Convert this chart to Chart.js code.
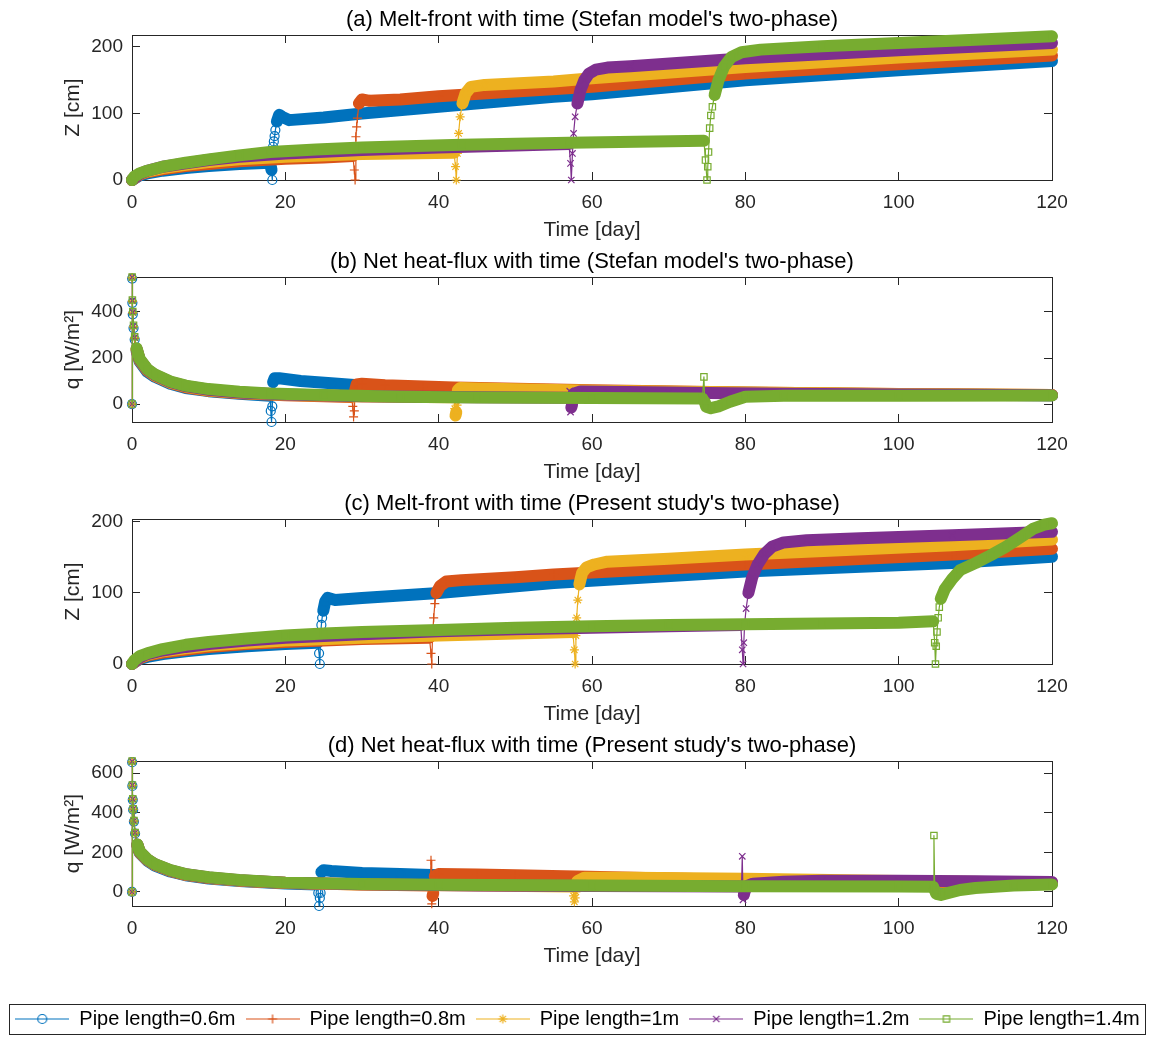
<!DOCTYPE html>
<html>
<head>
<meta charset="utf-8">
<script src="https://cdn.jsdelivr.net/npm/chart.js@4.4.1/dist/chart.umd.min.js"></script>
<style>
  html, body { margin: 0; padding: 0; background: #fff; overflow: hidden; }
  #wrap { position: relative; width: 1155px; height: 1038px; overflow: hidden; }
  #wrap canvas { position: absolute; left: 0; }
</style>
</head>
<body>
<div id="wrap">
  <canvas id="panelA" width="1155" height="243" style="top:0px"></canvas>
  <canvas id="panelB" width="1155" height="243" style="top:242px"></canvas>
  <canvas id="panelC" width="1155" height="243" style="top:484px"></canvas>
  <canvas id="panelD" width="1155" height="243" style="top:726px"></canvas>
  <canvas id="legendBox" width="1155" height="60" style="top:999px"></canvas>
</div>
<script>
// series names (one per pipe length)
const pipeLabels = ["Pipe length=0.6m", "Pipe length=0.8m", "Pipe length=1m", "Pipe length=1.2m", "Pipe length=1.4m"];

// tick labels
const dayTicks = [0, 20, 40, 60, 80, 100, 120];
const meltTicks = [0, 100, 200];
const fluxTicksB = [0, 200, 400];
const fluxTicksD = [0, 200, 400, 600];

// (a) melt front, Stefan model: days and Z [cm], one row per pipe length
const stefanMeltDays = [
  [0, 1, 2, 4, 7, 10, 14, 18, 18.2, 18.3, 18.4, 18.5, 18.6, 18.7, 18.9, 19.2, 19.6, 20.5, 25, 30, 40, 55, 60, 80, 100, 120],
  [0, 1, 2, 4, 7, 10, 14, 20, 25, 28.8, 29.0, 29.1, 29.2, 29.3, 29.4, 29.6, 30, 31, 35, 40, 60, 80, 100, 120],
  [0, 1, 2, 4, 7, 10, 14, 20, 30, 42.0, 42.2, 42.3, 42.45, 42.6, 42.8, 43.1, 43.5, 44.2, 46, 55, 60, 80, 100, 120],
  [0, 1, 2, 4, 7, 10, 14, 20, 30, 40, 50, 57.0, 57.2, 57.3, 57.45, 57.6, 57.8, 58.1, 58.5, 59, 59.6, 60.5, 62, 65, 80, 100, 120],
  [0, 0.3, 1, 2, 4, 7, 10, 14, 18, 24, 30, 43, 57, 74.6, 74.8, 75.0, 75.1, 75.2, 75.35, 75.5, 75.7, 76.0, 76.5, 77.2, 78.2, 79.5, 82, 90, 100, 110, 120]
];
const stefanMeltZ = [
  [0, 7, 10, 14, 18, 21, 24, 26, 15, 0, 50, 58, 66, 75, 88, 98, 95, 90, 94, 100, 110, 125, 129, 150, 165, 179],
  [0, 8, 12, 16, 21, 24, 28, 32, 34, 36, 15, 0, 65, 80, 93, 115, 121, 119, 121, 126, 140, 160, 174, 187],
  [0, 9, 13, 18, 23, 27, 31, 35, 39, 41, 20, 0, 40, 70, 95, 115, 130, 140, 143, 148, 153, 170, 184, 196],
  [0, 9, 14, 20, 25, 30, 35, 40, 45, 49, 52, 54, 25, 0, 40, 70, 95, 115, 135, 150, 160, 166, 169, 171, 183, 195, 206],
  [0, 5, 10, 14, 20, 26, 31, 37, 42, 46, 49, 53, 56, 59, 30, 0, 20, 42, 78, 97, 110, 128, 150, 170, 185, 192, 196, 201, 206, 211, 216]
];

// (b) net heat flux, Stefan model: days and q [W/m2]
const stefanFluxDays = [
  [0, 0.02, 0.05, 0.1, 0.2, 0.35, 0.6, 1, 2, 3, 5, 7, 10, 14, 18, 18.1, 18.2, 18.3, 18.4, 18.6, 19.2, 22, 26, 29, 35, 40, 60, 80, 100, 120],
  [0, 0.02, 0.05, 0.1, 0.2, 0.35, 0.6, 1, 2, 3, 5, 7, 10, 14, 20, 25, 28.6, 28.8, 28.9, 29.0, 29.1, 29.3, 30, 33, 38, 42, 60, 80, 100, 120],
  [0, 0.02, 0.05, 0.1, 0.2, 0.35, 0.6, 1, 2, 3, 5, 7, 10, 14, 20, 30, 42.0, 42.1, 42.2, 42.3, 42.4, 42.5, 42.8, 45, 50, 57, 60, 80, 100, 120],
  [0, 0.02, 0.05, 0.1, 0.2, 0.35, 0.6, 1, 2, 3, 5, 7, 10, 14, 20, 30, 45, 57.0, 57.1, 57.2, 57.3, 57.4, 57.6, 58.5, 62, 70, 78, 90, 100, 120],
  [0, 0.02, 0.05, 0.1, 0.2, 0.35, 0.6, 1, 2, 3, 5, 7, 10, 14, 18, 25, 35, 45, 60, 74.4, 74.6, 74.7, 74.9, 75.5, 76.5, 78, 80, 85, 100, 120]
];
const stefanFluxQ = [
  [0, 545, 440, 390, 330, 280, 230, 185, 140, 118, 88, 70, 56, 45, 36, -30, -78, -10, 95, 112, 112, 100, 90, 83, 75, 70, 57, 49, 43, 38],
  [0, 548, 445, 395, 335, 285, 235, 190, 145, 122, 92, 73, 58, 47, 38, 34, 31, -10, -56, -30, 60, 85, 88, 82, 76, 72, 60, 50, 44, 39],
  [0, 550, 448, 398, 338, 288, 238, 192, 148, 124, 94, 76, 60, 49, 40, 33, 29, -20, -50, -35, -5, 60, 70, 68, 64, 60, 58, 50, 44, 39],
  [0, 551, 449, 399, 339, 289, 239, 193, 150, 126, 96, 78, 62, 50, 41, 34, 29, 27, 56, -35, -15, -3, 45, 55, 53, 50, 47, 44, 42, 38],
  [0, 552, 452, 402, 342, 292, 242, 196, 152, 128, 98, 80, 65, 53, 46, 39, 32, 28, 26, 24, 118, 10, -12, -18, -10, 10, 32, 36, 36, 37]
];

// (c) melt front, present study: days and Z [cm]
const presentMeltDays = [
  [0, 1, 2, 4, 7, 10, 15, 20, 24.2, 24.4, 24.5, 24.6, 24.7, 24.8, 24.95, 25.2, 25.5, 26.5, 30, 40, 55, 80, 107, 120],
  [0, 1, 2, 4, 7, 10, 15, 20, 30, 38.8, 39.0, 39.1, 39.2, 39.35, 39.5, 39.7, 40.2, 41, 43, 50, 55, 80, 107, 120],
  [0, 1, 2, 4, 7, 10, 15, 20, 30, 40, 50, 57.5, 57.7, 57.8, 57.9, 58.0, 58.15, 58.35, 58.7, 59.3, 60.3, 62, 70, 80, 107, 120],
  [0, 1, 2, 4, 7, 10, 15, 20, 30, 40, 50, 60, 70, 79.4, 79.6, 79.7, 79.8, 79.9, 80.1, 80.4, 80.9, 81.6, 82.5, 83.5, 85, 88, 95, 107, 120],
  [0, 0.3, 1, 2, 4, 7, 10, 15, 20, 25, 30, 40, 50, 60, 70, 80, 90, 100, 104.5, 104.7, 104.8, 104.9, 105.0, 105.15, 105.3, 105.5, 106, 107, 108, 110, 112, 114, 116, 117.5, 119, 120]
];
const presentMeltZ = [
  [0, 7, 10, 14, 18, 21, 25, 28, 30, 15, 0, 40, 55, 65, 75, 88, 93, 90, 93, 100, 114, 130, 142, 151],
  [0, 8, 12, 16, 20, 24, 28, 31, 35, 37, 15, 0, 40, 65, 85, 100, 110, 116, 118, 122, 126, 140, 154, 162],
  [0, 9, 13, 18, 22, 26, 30, 33, 37, 40, 43, 45, 20, 0, 40, 65, 90, 112, 128, 136, 140, 144, 148, 154, 167, 175],
  [0, 9, 14, 19, 24, 28, 33, 37, 42, 46, 49, 51, 53, 55, 20, 0, 30, 55, 78, 100, 122, 140, 155, 165, 171, 174, 177, 181, 186],
  [0, 5, 11, 15, 21, 27, 31, 36, 40, 43, 45, 48, 51, 53, 55, 56, 57, 58, 60, 30, 0, 25, 45, 65, 80, 92, 105, 120, 132, 142, 153, 165, 179, 190, 196, 198]
];

// (d) net heat flux, present study: days and q [W/m2]
const presentFluxDays = [
  [0, 0.02, 0.05, 0.1, 0.15, 0.25, 0.4, 0.7, 1, 2, 3, 5, 7, 10, 14, 20, 24.2, 24.3, 24.4, 24.5, 24.6, 24.7, 25, 26, 30, 35, 39, 50, 60, 80, 100, 120],
  [0, 0.02, 0.05, 0.1, 0.15, 0.25, 0.4, 0.7, 1, 2, 3, 5, 7, 10, 14, 20, 30, 38.9, 39.0, 39.1, 39.2, 39.3, 39.5, 40, 45, 50, 58, 70, 80, 100, 120],
  [0, 0.02, 0.05, 0.1, 0.15, 0.25, 0.4, 0.7, 1, 2, 3, 5, 7, 10, 14, 20, 30, 45, 57.5, 57.6, 57.7, 57.8, 57.9, 58.1, 59, 65, 80, 100, 120],
  [0, 0.02, 0.05, 0.1, 0.15, 0.25, 0.4, 0.7, 1, 2, 3, 5, 7, 10, 14, 20, 30, 45, 60, 79.5, 79.6, 79.7, 79.8, 79.9, 80.2, 81, 85, 90, 100, 110, 120],
  [0, 0.02, 0.05, 0.1, 0.15, 0.25, 0.4, 0.7, 1, 2, 3, 5, 7, 10, 14, 20, 30, 40, 60, 80, 100, 104.5, 104.6, 104.7, 104.9, 105.5, 106.5, 108, 110, 115, 120]
];
const presentFluxQ = [
  [0, 655, 535, 465, 415, 355, 295, 235, 198, 158, 133, 103, 84, 68, 55, 43, 38, -5, -71, -30, -5, 100, 110, 106, 96, 90, 85, 76, 68, 56, 48, 42],
  [0, 657, 537, 467, 417, 357, 297, 237, 200, 161, 136, 106, 86, 70, 57, 45, 37, 33, 160, -60, -20, -5, 80, 90, 88, 84, 78, 68, 60, 52, 46],
  [0, 658, 538, 468, 418, 358, 298, 238, 202, 163, 138, 108, 88, 72, 58, 46, 38, 32, 28, -20, -50, -30, 0, 55, 72, 72, 66, 55, 47],
  [0, 659, 539, 469, 419, 359, 299, 239, 203, 164, 139, 109, 89, 73, 59, 47, 39, 33, 30, 27, 180, -40, -15, 0, 30, 42, 52, 56, 56, 54, 50],
  [0, 661, 540, 470, 420, 360, 300, 240, 205, 165, 140, 110, 90, 74, 60, 47, 40, 36, 32, 29, 27, 26, 285, 10, -10, -15, -5, 10, 20, 32, 38]
];

// MATLAB default colour order and markers
const pipeColors = ["#0072BD", "#D95319", "#EDB120", "#7E2F8E", "#77AC30"];
const pipeMarkers = ["circle", "cross", "star", "crossRot", "rect"];

const AXIS = "#262626";
const BAND = 12;

Chart.defaults.font.family = 'Arial, "Liberation Sans", Helvetica, sans-serif';

// near-vertical jumps are drawn thin, the rest as a thick band of markers
const steep = (c) => Math.abs(c.p1.y - c.p0.y) > 5 * Math.abs(c.p1.x - c.p0.x);

const fixTicks = (values) => (scale) => {
  scale.ticks = values.map((v) => ({ value: v }));
};

function axisStyle(extra) {
  return Object.assign({
    type: "linear",
    grid: { display: true, drawOnChartArea: false, drawTicks: true, tickLength: -8, color: AXIS, lineWidth: 1 },
    border: { display: true, color: AXIS, width: 1 },
  }, extra);
}

function drawPanel(id, title, yLabel, days, values, yMin, yMax, yTicks) {
  new Chart(document.getElementById(id), {
    type: "line",
    data: {
      datasets: values.map((ys, i) => ({
        label: pipeLabels[i],
        data: ys.map((y, k) => ({ x: days[i][k], y: y })),
        borderColor: pipeColors[i],
        backgroundColor: pipeColors[i],
        borderWidth: BAND,
        borderCapStyle: "round",
        borderJoinStyle: "round",
        pointStyle: pipeMarkers[i],
        pointRadius: 4.5,
        pointBorderWidth: 1.2,
        pointBorderColor: pipeColors[i],
        pointBackgroundColor: "rgba(0,0,0,0)",
        tension: 0,
        clip: false,
        order: values.length - 1 - i,
        segment: { borderWidth: (c) => (steep(c) ? 1.2 : BAND) },
      })),
    },
    options: {
      responsive: false,
      animation: false,
      devicePixelRatio: 1,
      layout: { padding: { top: 7, right: 103, bottom: 0, left: 0 } },
      plugins: {
        legend: { display: false },
        tooltip: { enabled: false },
        title: {
          display: true,
          fullSize: false,
          text: title,
          color: "#000",
          font: { size: 22, weight: "normal" },
          padding: { top: 0, bottom: 1.6 },
        },
      },
      scales: {
        x: axisStyle({
          position: "bottom",
          min: 0,
          max: 120,
          afterBuildTicks: fixTicks(dayTicks),
          afterFit: (s) => { s.height = 63; },
          ticks: { color: AXIS, font: { size: 19 }, padding: 19.6, maxRotation: 0, autoSkip: false },
          title: { display: true, text: "Time [day]", color: AXIS, font: { size: 21 }, padding: { top: 0, bottom: 0 } },
        }),
        xTop: axisStyle({
          position: "top",
          min: 0,
          max: 120,
          afterBuildTicks: fixTicks(dayTicks),
          afterFit: (s) => { s.height = 0; },
          ticks: { display: false },
        }),
        y: axisStyle({
          position: "left",
          min: yMin,
          max: yMax,
          afterBuildTicks: fixTicks(yTicks),
          afterFit: (s) => { s.width = 132; },
          ticks: { color: AXIS, font: { size: 19 }, padding: 17, autoSkip: false },
          title: { display: true, text: yLabel, color: AXIS, font: { size: 21 }, padding: { top: 61, bottom: 0 } },
        }),
        yRight: axisStyle({
          position: "right",
          min: yMin,
          max: yMax,
          afterBuildTicks: fixTicks(yTicks),
          afterFit: (s) => { s.width = 0; },
          ticks: { display: false },
        }),
      },
    },
  });
}

drawPanel("panelA", "(a) Melt-front with time (Stefan model's two-phase)", "Z [cm]",
  stefanMeltDays, stefanMeltZ, 0, 218, meltTicks);
drawPanel("panelB", "(b) Net heat-flux with time (Stefan model's two-phase)", "q [W/m²]",
  stefanFluxDays, stefanFluxQ, -78, 552, fluxTicksB);
drawPanel("panelC", "(c) Melt-front with time (Present study's two-phase)", "Z [cm]",
  presentMeltDays, presentMeltZ, 0, 204, meltTicks);
drawPanel("panelD", "(d) Net heat-flux with time (Present study's two-phase)", "q [W/m²]",
  presentFluxDays, presentFluxQ, -71, 661, fluxTicksD);

// legend: line sample with its marker in the middle
function legendSample(i) {
  const c = document.createElement("canvas");
  c.width = 54;
  c.height = 16;
  const g = c.getContext("2d");
  g.strokeStyle = pipeColors[i];
  g.lineWidth = 1.2;
  g.beginPath();
  g.moveTo(0, 8);
  g.lineTo(54, 8);
  g.stroke();
  g.fillStyle = "rgba(0,0,0,0)";
  Chart.helpers.drawPoint(g, { pointStyle: pipeMarkers[i], radius: 4.5, borderWidth: 1.2, rotation: 0 }, 27, 8);
  return c;
}

const legendFrame = {
  id: "legendFrame",
  afterDraw(chart) {
    const boxes = chart.legend.legendHitBoxes;
    if (!boxes || !boxes.length) return;
    const left = Math.min(...boxes.map((b) => b.left)) - 6;
    const right = Math.max(...boxes.map((b) => b.left + b.width)) + 6;
    const top = Math.min(...boxes.map((b) => b.top)) - 5;
    const bottom = Math.max(...boxes.map((b) => b.top + b.height)) + 5;
    const g = chart.ctx;
    g.save();
    g.strokeStyle = AXIS;
    g.lineWidth = 1;
    g.strokeRect(Math.round(left) + 0.5, Math.round(top) + 0.5, Math.round(right - left), Math.round(bottom - top));
    g.restore();
  },
};

new Chart(document.getElementById("legendBox"), {
  type: "line",
  data: {
    datasets: pipeLabels.map((label, i) => ({
      label: label,
      data: [],
      borderColor: pipeColors[i],
      pointStyle: legendSample(i),
    })),
  },
  options: {
    responsive: false,
    animation: false,
    devicePixelRatio: 1,
    layout: { padding: 0 },
    scales: { x: { display: false }, y: { display: false } },
    plugins: {
      tooltip: { enabled: false },
      legend: {
        position: "top",
        maxHeight: 60,
        onClick: null,
        labels: { usePointStyle: true, pointStyleWidth: 54, boxHeight: 16, color: "#000", font: { size: 20 }, padding: 10 },
      },
    },
  },
  plugins: [legendFrame],
});
</script>
</body>
</html>
